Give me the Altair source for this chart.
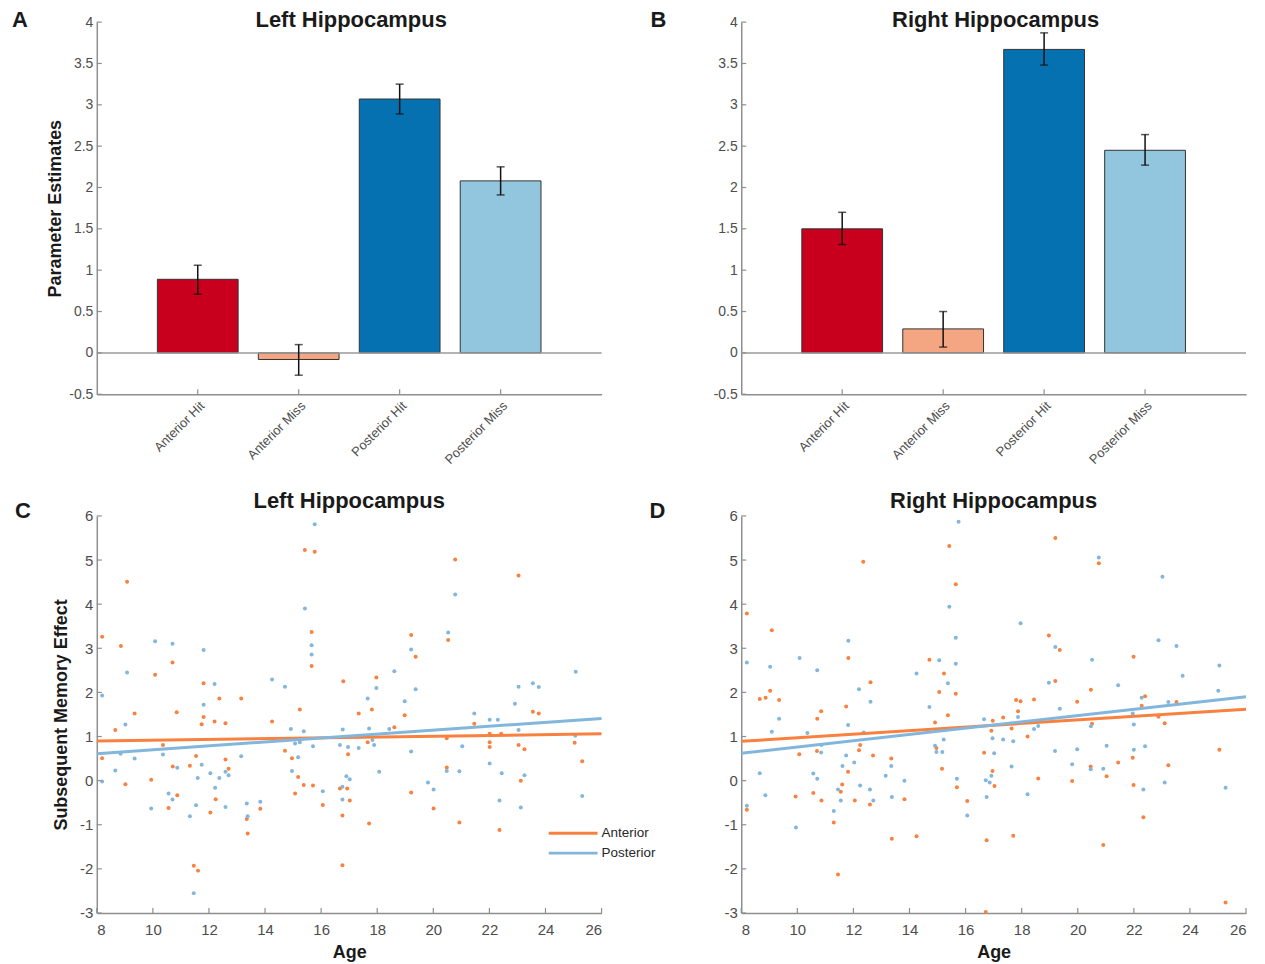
import altair as alt
import pandas as pd

FONT = "Liberation Sans"
LABEL_COLOR = "#4d4d4d"
TITLE_COLOR = "#1a1a1a"
AXIS_COLOR = "#8f8f8f"
ORANGE = "#f9813f"
BLUE = "#82b6dc"

# ---------------- bar data (panels A, B) ----------------
conditions = ["Anterior Hit", "Anterior Miss", "Posterior Hit", "Posterior Miss"]
cond_pos = [1, 2, 3, 4]
bar_colors = ["#c8001e", "#f4a582", "#0571b0", "#92c5de"]

left_mean = [0.89, -0.08, 3.07, 2.08]
left_lo = [0.71, -0.27, 2.89, 1.91]
left_hi = [1.06, 0.10, 3.25, 2.25]

right_mean = [1.50, 0.29, 3.67, 2.45]
right_lo = [1.31, 0.07, 3.48, 2.27]
right_hi = [1.70, 0.50, 3.87, 2.64]

bar_yticks = [-0.5, 0, 0.5, 1, 1.5, 2, 2.5, 3, 3.5, 4]
age_ticks = [8, 10, 12, 14, 16, 18, 20, 22, 24, 26]
sme_ticks = [-3, -2, -1, 0, 1, 2, 3, 4, 5, 6]
regions = ["Anterior", "Posterior"]
region_colors = [ORANGE, BLUE]

# ---------------- scatter data (panel C, left) ----------------
c_ant_age = [15.42, 15.77, 9.08, 8.19, 15.66, 8.86, 10.70, 15.66, 10.08, 16.79,
             11.81, 12.37, 13.15, 9.35, 10.85, 11.81, 15.24, 20.78, 23.04, 20.53,
             19.21, 19.37, 17.97, 17.34, 17.81, 18.98, 23.55, 23.76, 12.20, 12.59,
             11.74, 8.66, 14.25, 8.19, 10.36, 11.54, 14.71, 14.96, 16.96, 10.71,
             11.32, 12.59, 12.70, 9.02, 9.94, 15.18, 15.38, 15.71, 15.07, 16.67,
             16.93, 17.02, 16.06, 16.76, 16.76, 10.87, 10.56, 12.05, 12.24, 13.83,
             13.35, 13.38, 11.46, 11.61, 18.61, 21.46, 22.42, 22.01, 20.48, 17.66,
             22.01, 22.01, 23.04, 23.25, 25.04, 25.31, 20.48, 23.12, 19.21, 20.01,
             17.71, 20.93, 22.36]
c_ant_sme = [5.23, 5.19, 4.51, 3.26, 3.37, 3.05, 2.68, 2.60, 2.40, 2.25,
             2.21, 1.86, 1.86, 1.52, 1.55, 1.44, 1.61, 5.01, 4.65, 3.19,
             3.30, 2.81, 2.34, 1.52, 1.61, 1.48, 1.56, 1.52, 1.34, 1.30,
             1.28, 1.15, 1.34, 0.51, 0.81, 0.56, 0.68, 0.51, 0.60, 0.32,
             0.34, 0.48, 0.27, -0.08, 0.02, 0.08, -0.10, -0.11, -0.29, -0.18,
             -0.18, -0.45, -0.55, -0.79, -1.92, -0.33, -0.62, -0.72, -0.42, -0.64,
             -0.87, -1.20, -1.93, -2.04, 1.21, 1.29, 1.06, 1.06, 0.96, 0.87,
             0.87, 0.76, 0.81, 0.71, 0.86, 0.44, 0.30, 0.00, -0.27, -0.63,
             -0.97, -0.95, -1.12]
c_post_age = [15.77, 15.42, 10.08, 10.70, 15.66, 11.81, 15.66, 9.08, 14.25, 14.71,
              12.20, 8.19, 11.81, 20.78, 20.53, 19.21, 18.61, 17.97, 19.37, 25.08,
              23.04, 23.55, 23.76, 17.66, 18.98, 22.91, 21.46, 9.02, 14.92, 15.38,
              16.77, 8.85, 9.35, 10.36, 13.15, 15.07, 15.24, 15.71, 15.18, 16.67,
              16.96, 8.66, 10.87, 11.74, 12.59, 12.70, 12.05, 12.37, 11.60, 8.19,
              14.96, 16.06, 16.76, 17.02, 16.90, 16.76, 10.56, 10.70, 9.94, 11.32,
              11.54, 12.59, 13.35, 13.83, 13.38, 11.46, 12.22, 22.01, 22.30, 17.71,
              18.43, 23.04, 25.06, 17.83, 17.89, 17.34, 21.03, 19.21, 22.01, 18.07,
              20.48, 20.93, 22.44, 23.25, 19.81, 20.01, 22.36, 23.12, 25.31]
c_post_sme = [5.81, 3.90, 3.16, 3.10, 3.07, 2.96, 2.86, 2.45, 2.29, 2.13,
              2.19, 1.93, 1.72, 4.22, 3.36, 2.97, 2.48, 2.10, 2.07, 2.47,
              2.13, 2.21, 2.12, 1.86, 1.80, 1.74, 1.52, 1.27, 1.17, 1.12,
              1.16, 0.61, 0.50, 0.59, 0.55, 0.84, 0.87, 0.78, 0.53, 0.81,
              0.76, 0.23, 0.29, 0.36, 0.20, 0.12, 0.17, 0.06, 0.06, -0.02,
              0.22, -0.24, -0.14, 0.03, 0.10, -0.43, -0.29, -0.43, -0.63, -0.81,
              -0.56, -0.60, -0.52, -0.48, -0.81, -2.55, -0.16, 1.38, 1.38, 1.18,
              1.17, 1.15, 1.02, 0.92, 0.81, 0.74, 0.78, 0.66, 0.39, 0.20,
              0.22, 0.21, 0.17, 0.12, -0.04, -0.20, -0.45, -0.61, -0.35]

# ---------------- scatter data (panel D, right) ----------------
d_ant_age = [15.42, 12.35, 15.65, 8.20, 9.09, 11.82, 14.71, 15.23, 12.61, 15.06,
             15.65, 9.03, 8.66, 8.87, 9.35, 10.85, 11.74, 15.37, 10.71, 19.20,
             20.75, 18.97, 19.36, 21.99, 19.20, 20.47, 17.80, 17.96, 18.44, 19.98,
             17.87, 22.40, 22.28, 23.52, 22.88, 17.34, 14.91, 16.97, 16.92, 16.66,
             14.96, 12.24, 12.20, 10.07, 10.70, 12.70, 13.35, 11.81, 15.16, 16.96,
             17.03, 11.60, 11.55, 10.57, 9.94, 10.86, 12.05, 12.59, 13.82, 15.69,
             16.06, 8.20, 11.30, 13.37, 14.25, 16.75, 11.45, 16.72, 23.10, 20.51,
             17.64, 18.21, 25.05, 21.96, 21.44, 20.46, 23.23, 18.59, 19.80, 21.03,
             21.99, 22.34, 17.70, 20.91, 25.27]
d_ant_sme = [5.32, 4.96, 4.45, 3.79, 3.41, 2.78, 2.74, 2.43, 2.23, 2.01,
             1.97, 2.04, 1.85, 1.88, 1.83, 1.57, 1.68, 1.48, 1.40, 5.50,
             4.93, 3.29, 2.96, 2.81, 2.26, 2.06, 1.83, 1.80, 1.84, 1.79,
             1.57, 1.91, 1.70, 1.78, 1.45, 1.43, 1.32, 1.36, 1.13, 0.63,
             0.74, 0.81, 0.69, 0.60, 0.67, 0.57, 0.50, 0.20, 0.27, 0.22,
             -0.12, -0.09, -0.25, -0.28, -0.36, -0.45, -0.45, -0.54, -0.42, -0.15,
             -0.46, -0.66, -0.95, -1.32, -1.26, -1.35, -2.13, -2.98, 1.30, 1.29,
             1.18, 1.00, 0.70, 0.52, 0.41, 0.32, 0.35, 0.05, -0.01, 0.10,
             -0.10, -0.83, -1.25, -1.46, -2.76]
d_post_age = [15.75, 15.42, 11.82, 15.65, 8.20, 10.08, 9.03, 10.71, 15.06, 15.65,
              14.25, 15.37, 12.20, 12.61, 14.71, 9.35, 16.66, 20.75, 23.02, 17.96,
              19.20, 22.88, 23.52, 20.51, 25.05, 23.74, 18.97, 21.44, 25.01, 19.36,
              22.28, 23.23, 21.96, 17.87, 9.09, 10.36, 11.81, 12.37, 16.96, 17.02,
              15.22, 14.91, 14.96, 15.17, 10.86, 10.85, 11.74, 12.03, 11.61, 13.35,
              8.66, 10.57, 10.71, 13.15, 15.69, 13.82, 16.72, 16.86, 16.92, 12.24,
              11.45, 12.59, 8.86, 11.55, 12.71, 13.37, 16.06, 16.75, 8.20, 11.30,
              9.95, 20.47, 22.00, 18.44, 18.59, 17.34, 17.70, 19.19, 19.98, 21.03,
              22.00, 22.40, 20.46, 20.91, 19.80, 17.64, 23.10, 22.34, 25.27, 18.21]
d_post_sme = [5.87, 3.94, 3.17, 3.24, 2.68, 2.78, 2.58, 2.50, 2.73, 2.65,
              2.43, 2.21, 2.07, 1.79, 1.67, 1.40, 1.39, 5.06, 4.62, 3.57,
              3.03, 3.18, 3.05, 2.74, 2.61, 2.38, 2.22, 2.16, 2.04, 1.63,
              1.88, 1.78, 1.52, 1.44, 1.11, 1.08, 1.26, 1.09, 0.96, 0.62,
              0.93, 0.79, 0.65, 0.65, 0.81, 0.64, 0.57, 0.41, 0.33, 0.33,
              0.17, 0.16, 0.04, 0.11, 0.04, 0.00, 0.01, -0.04, 0.11, -0.11,
              -0.20, -0.20, -0.33, -0.45, -0.45, -0.37, -0.79, -0.37, -0.57, -0.69,
              -1.06, 1.23, 1.27, 1.17, 1.24, 0.93, 0.89, 0.67, 0.71, 0.79,
              0.70, 0.78, 0.26, 0.27, 0.37, 0.32, -0.04, -0.20, -0.16, -0.31]

# regression lines (value at age 8 and at age 26)
fit_age = [8, 26]
c_ant_fit = [0.90, 1.06]
c_post_fit = [0.61, 1.41]
d_ant_fit = [0.89, 1.62]
d_post_fit = [0.62, 1.90]

# ---------------- layout constants ----------------
W = 506
HB = 373
HS = 398
TICK = 5

num_label = ("datum.value < 0 ? '-' + format(-datum.value, '~g') "
             ": format(datum.value, '~g')")


def text_layer(txt, x, y, size, align="center", weight="bold", color=TITLE_COLOR,
               baseline="top"):
    return alt.Chart(pd.DataFrame({"t": [txt]})).mark_text(
        align=align, baseline=baseline, fontSize=size, fontWeight=weight,
        font=FONT, color=color
    ).encode(text="t:N", x=alt.value(x), y=alt.value(y))


def make_axes(xs, ys, xaxis, yaxis, xtitle, ytitle):
    def X(field):
        return alt.X(field, scale=xs, axis=xaxis, title=xtitle)

    def Y(field):
        return alt.Y(field, scale=ys, axis=yaxis, title=ytitle)
    return X, Y


def inward_ticks(values, axis_channel, X, Y, height):
    df = pd.DataFrame({"t": values})
    base = alt.Chart(df).mark_rule(color=AXIS_COLOR, strokeWidth=1.2)
    if axis_channel == "y":
        return base.encode(y=Y("t:Q"), x=alt.value(0), x2=alt.value(TICK))
    return base.encode(x=X("t:Q"), y=alt.value(height), y2=alt.value(height - TICK))


def bar_panel(mean, lo, hi, title, letter, letter_x, ytitle):
    df = pd.DataFrame({"pos": cond_pos, "cond": conditions, "col": bar_colors,
                       "mean": mean, "lo": lo, "hi": hi})
    xs = alt.Scale(domain=[0, 5], nice=False, zero=False)
    ys = alt.Scale(domain=[-0.5, 4], nice=False, zero=False)
    label_expr = "[" + ",".join("'" + c + "'" for c in [""] + conditions) + "][datum.value]"
    xaxis = alt.Axis(values=cond_pos, labelExpr=label_expr, labelAngle=-45,
                     labelAlign="right", labelBaseline="top", labelFontSize=13,
                     labelPadding=5, ticks=False, tickSize=0, grid=False,
                     labelColor=LABEL_COLOR, domainColor=AXIS_COLOR, domainWidth=1.5,
                     labelFont=FONT)
    yaxis_kw = dict(values=bar_yticks, labelExpr=num_label, ticks=False, tickSize=0,
                    grid=False, labelColor=LABEL_COLOR, labelFontSize=14,
                    labelPadding=4, domainColor=AXIS_COLOR, domainWidth=1.5,
                    labelFont=FONT)
    if ytitle:
        yaxis_kw.update(titleFontSize=18, titleFontWeight="bold", titleFont=FONT,
                        titleColor=TITLE_COLOR, titleX=-41, titleY=HB / 2,
                        titleAlign="center", titleBaseline="middle", titleAngle=270)
    yaxis = alt.Axis(**yaxis_kw)
    X, Y = make_axes(xs, ys, xaxis, yaxis, None, ytitle if ytitle else None)

    bars = alt.Chart(df).transform_calculate(
        x0="datum.pos - 0.4", x1="datum.pos + 0.4"
    ).mark_bar(stroke="#333333", strokeWidth=1).encode(
        x=X("x0:Q"), x2="x1:Q",
        y=Y("mean:Q"), y2=alt.datum(0),
        color=alt.Color("col:N", scale=None),
    )
    zero = alt.Chart(pd.DataFrame({"z": [0]})).mark_rule(
        color="#9a9a9a", strokeWidth=1.5
    ).encode(y=Y("z:Q"), x=alt.value(0), x2=alt.value(W))
    err = alt.Chart(df).mark_rule(color="#111111", strokeWidth=1.5).encode(
        x=X("pos:Q"), y=Y("lo:Q"), y2="hi:Q")
    cap_lo = alt.Chart(df).mark_tick(orient="horizontal", size=8, thickness=1.5,
                                     color="#111111").encode(x=X("pos:Q"), y=Y("lo:Q"))
    cap_hi = alt.Chart(df).mark_tick(orient="horizontal", size=8, thickness=1.5,
                                     color="#111111").encode(x=X("pos:Q"), y=Y("hi:Q"))
    layers = [bars, zero, err, cap_lo, cap_hi,
              inward_ticks(bar_yticks, "y", X, Y, HB),
              inward_ticks(cond_pos, "x", X, Y, HB),
              text_layer(title, W / 2 + 2, -12, 22),
              text_layer(letter, letter_x, -12, 22, align="left")]
    return alt.layer(*layers).properties(width=W, height=HB)


def scatter_panel(ant_age, ant_v, post_age, post_v, ant_fit, post_fit,
                  title, letter, letter_x, ytitle, legend):
    xs = alt.Scale(domain=[8, 26], nice=False, zero=False)
    ys = alt.Scale(domain=[-3, 6], nice=False, zero=False)
    xaxis = alt.Axis(values=age_ticks, ticks=False, tickSize=0, grid=False,
                     labelColor=LABEL_COLOR, labelFontSize=15, labelPadding=10,
                     labelFont=FONT, domainColor=AXIS_COLOR, domainWidth=1.5,
                     titleFontSize=18, titleFontWeight="bold", titleFont=FONT,
                     titleColor=TITLE_COLOR, titleY=40, titleBaseline="middle")
    yaxis_kw = dict(values=sme_ticks, labelExpr=num_label, ticks=False, tickSize=0,
                    grid=False, labelColor=LABEL_COLOR, labelFontSize=15,
                    labelPadding=4, labelFont=FONT, domainColor=AXIS_COLOR,
                    domainWidth=1.5)
    if ytitle:
        yaxis_kw.update(titleFontSize=18, titleFontWeight="bold", titleFont=FONT,
                        titleColor=TITLE_COLOR, titleX=-35, titleY=HS / 2,
                        titleAlign="center", titleBaseline="middle", titleAngle=270)
    yaxis = alt.Axis(**yaxis_kw)
    X, Y = make_axes(xs, ys, xaxis, yaxis, "Age", ytitle if ytitle else None)

    layers = []
    series = [(ant_age, ant_v, ant_fit), (post_age, post_v, post_fit)]
    for (ages, vals, fit), col in zip(series, region_colors):
        pts = pd.DataFrame({"age": ages, "sme": vals})
        layers.append(alt.Chart(pts).mark_circle(size=16, opacity=1, color=col).encode(
            x=X("age:Q"), y=Y("sme:Q")))
    for (ages, vals, fit), col in zip(series, region_colors):
        fdf = pd.DataFrame({"age": fit_age, "sme": fit})
        layers.append(alt.Chart(fdf).mark_line(strokeWidth=3, color=col).encode(
            x=X("age:Q"), y=Y("sme:Q")))
    layers += [inward_ticks(sme_ticks, "y", X, Y, HS),
               inward_ticks(age_ticks, "x", X, Y, HS),
               text_layer(title, W / 2, -25, 22),
               text_layer(letter, letter_x, -15, 22, align="left")]
    if legend:
        for i, (name, col) in enumerate(zip(regions, region_colors)):
            yy = 318 + 20 * i
            layers.append(
                alt.Chart(pd.DataFrame({"r": [name]})).mark_rule(
                    color=col, strokeWidth=3
                ).encode(x=alt.value(453), x2=alt.value(502), y=alt.value(yy))
            )
            layers.append(text_layer(name, 506, yy, 13.5, align="left",
                                     weight="normal", color="#262626",
                                     baseline="middle"))
    return alt.layer(*layers).properties(width=W, height=HS)


panel_a = bar_panel(left_mean, left_lo, left_hi, "Left Hippocampus", "A", -85,
                    "Parameter Estimates")
panel_b = bar_panel(right_mean, right_lo, right_hi, "Right Hippocampus", "B", -91, None)
panel_c = scatter_panel(c_ant_age, c_ant_sme, c_post_age, c_post_sme, c_ant_fit,
                        c_post_fit, "Left Hippocampus", "C", -82,
                        "Subsequent Memory Effect", True)
panel_d = scatter_panel(d_ant_age, d_ant_sme, d_post_age, d_post_sme, d_ant_fit,
                        d_post_fit, "Right Hippocampus", "D", -92, None, False)

chart = alt.concat(
    panel_a, panel_b, panel_c, panel_d, columns=2,
    spacing={"row": 122, "column": 140}, bounds="flush",
).properties(
    padding={"left": 4, "top": 0, "right": 5, "bottom": 5},
    background="white",
).configure_view(stroke=None)

chart.save("out.html", embed_options={"renderer": "svg", "actions": False})
